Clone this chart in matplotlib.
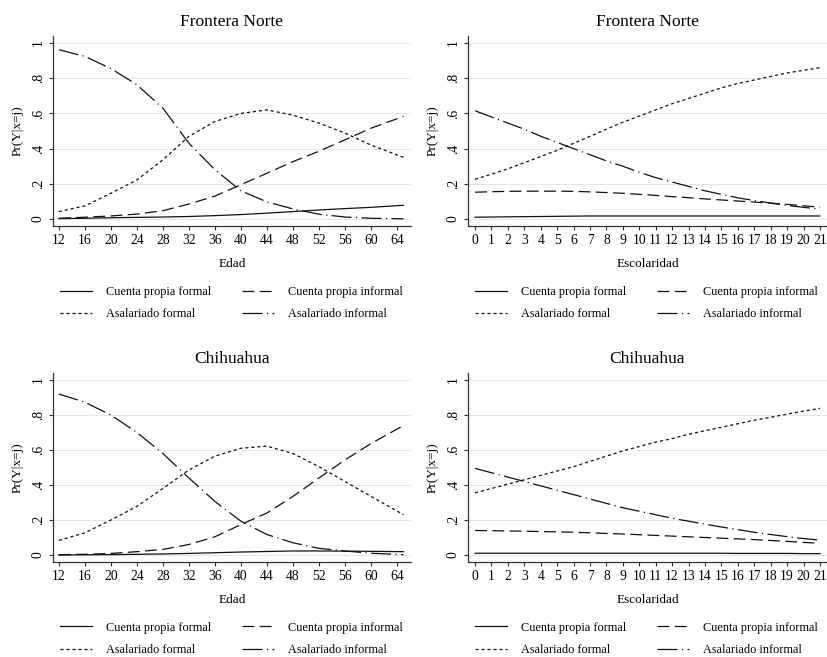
import numpy as np
import matplotlib
matplotlib.use("Agg")
import matplotlib.pyplot as plt

plt.rcParams['font.family'] = ['Liberation Serif', 'DejaVu Serif']

# ---- data ----
edad = [12, 16, 20, 24, 28, 32, 36, 40, 44, 48, 52, 56, 60, 65]
esc = list(range(22))

# Frontera Norte, by age
fn_edad_cpf = [0.002, 0.004, 0.007, 0.009, 0.011, 0.014, 0.019, 0.025, 0.033, 0.042, 0.051, 0.059, 0.066, 0.078]
fn_edad_cpi = [0.004, 0.010, 0.017, 0.028, 0.047, 0.085, 0.130, 0.195, 0.260, 0.326, 0.385, 0.450, 0.516, 0.583]
fn_edad_asf = [0.042, 0.074, 0.146, 0.222, 0.336, 0.470, 0.554, 0.600, 0.620, 0.590, 0.545, 0.488, 0.420, 0.350]
fn_edad_asi = [0.962, 0.924, 0.855, 0.763, 0.630, 0.430, 0.280, 0.160, 0.097, 0.057, 0.027, 0.011, 0.004, 0.001]

# Frontera Norte, by schooling
fn_esc_cpf = [0.010, 0.011, 0.012, 0.013, 0.014, 0.015, 0.016, 0.017, 0.017, 0.017, 0.017, 0.017,
              0.017, 0.017, 0.017, 0.017, 0.017, 0.017, 0.017, 0.017, 0.017, 0.017]
fn_esc_cpi = [0.152, 0.155, 0.157, 0.158, 0.158, 0.158, 0.157, 0.154, 0.150, 0.146, 0.140, 0.134,
              0.127, 0.121, 0.114, 0.108, 0.102, 0.096, 0.090, 0.083, 0.075, 0.067]
fn_esc_asf = [0.225, 0.255, 0.285, 0.320, 0.355, 0.390, 0.430, 0.470, 0.510, 0.550, 0.585, 0.620,
              0.655, 0.685, 0.715, 0.745, 0.770, 0.790, 0.810, 0.830, 0.845, 0.860]
fn_esc_asi = [0.615, 0.580, 0.545, 0.510, 0.470, 0.435, 0.400, 0.365, 0.330, 0.300, 0.265, 0.235,
              0.210, 0.185, 0.160, 0.140, 0.120, 0.105, 0.090, 0.077, 0.066, 0.057]

# Chihuahua, by age
ch_edad_cpf = [0.000, 0.001, 0.002, 0.004, 0.006, 0.009, 0.013, 0.017, 0.020, 0.023, 0.023, 0.022, 0.021, 0.019]
ch_edad_cpi = [0.002, 0.004, 0.009, 0.019, 0.032, 0.060, 0.104, 0.174, 0.240, 0.335, 0.440, 0.543, 0.637, 0.740]
ch_edad_asf = [0.083, 0.127, 0.200, 0.278, 0.380, 0.486, 0.565, 0.610, 0.622, 0.580, 0.505, 0.420, 0.335, 0.230]
ch_edad_asi = [0.920, 0.873, 0.800, 0.700, 0.580, 0.440, 0.306, 0.193, 0.117, 0.070, 0.038, 0.023, 0.010, 0.002]

# Chihuahua, by schooling
ch_esc_cpf = [0.010, 0.010, 0.010, 0.010, 0.010, 0.010, 0.010, 0.010, 0.010, 0.010, 0.010, 0.010,
              0.010, 0.010, 0.010, 0.010, 0.009, 0.009, 0.009, 0.009, 0.008, 0.008]
ch_esc_cpi = [0.140, 0.139, 0.137, 0.136, 0.134, 0.132, 0.130, 0.127, 0.123, 0.120, 0.116, 0.112,
              0.108, 0.104, 0.100, 0.096, 0.092, 0.088, 0.083, 0.078, 0.072, 0.067]
ch_esc_asf = [0.355, 0.380, 0.405, 0.430, 0.455, 0.480, 0.505, 0.535, 0.565, 0.595, 0.620, 0.645,
              0.665, 0.690, 0.710, 0.730, 0.750, 0.770, 0.787, 0.805, 0.822, 0.838]
ch_esc_asi = [0.495, 0.470, 0.445, 0.420, 0.395, 0.370, 0.345, 0.320, 0.295, 0.270, 0.250, 0.230,
              0.210, 0.193, 0.176, 0.160, 0.145, 0.130, 0.117, 0.105, 0.094, 0.085]

labels = ["Cuenta propia formal", "Cuenta propia informal", "Asalariado formal", "Asalariado informal"]
edad_ticks = list(range(12, 65, 4))
y_ticks = [0, 0.2, 0.4, 0.6, 0.8, 1]
y_ticklabels = ["0", ".2", ".4", ".6", ".8", "1"]

styles = [dict(ls='-'),
          dict(dashes=(9.5, 4.3)),
          dict(dashes=(2.5, 2.3)),
          dict(dashes=(16, 3.5, 1, 3.5))]

fig = plt.figure(figsize=(8.28, 6.57), dpi=100)
W, H = 828.0, 657.0
# axes boxes in pixels: left, top, right, bottom
boxes = [(53, 36, 411, 226), (468, 36, 827, 226),
         (53, 373, 411, 562), (468, 373, 827, 562)]

panels = [
    ("Frontera Norte", "Edad", edad, [fn_edad_cpf, fn_edad_cpi, fn_edad_asf, fn_edad_asi]),
    ("Frontera Norte", "Escolaridad", esc, [fn_esc_cpf, fn_esc_cpi, fn_esc_asf, fn_esc_asi]),
    ("Chihuahua", "Edad", edad, [ch_edad_cpf, ch_edad_cpi, ch_edad_asf, ch_edad_asi]),
    ("Chihuahua", "Escolaridad", esc, [ch_esc_cpf, ch_esc_cpi, ch_esc_asf, ch_esc_asi]),
]

axis_col = '#333333'
for (l, t, r, b), (title, xlab, xs, series) in zip(boxes, panels):
    ax = fig.add_axes([l / W, 1 - b / H, (r - l) / W, (b - t) / H])
    handles = []
    for ys, lab, st in zip(series, labels, styles):
        h, = ax.plot(xs, ys, color='#111111', lw=0.9, label=lab, **st)
        handles.append(h)
    ax.set_ylim(-0.04, 1.04)
    if xlab == "Edad":
        ax.set_xlim(11.1, 66.15)
        ax.set_xticks(edad_ticks)
    else:
        ax.set_xlim(-0.43, 21.43)
        ax.set_xticks(esc)
    ax.set_yticks(y_ticks)
    ax.set_yticklabels(y_ticklabels, rotation=90, va='center')
    ax.grid(axis='y', color='#e6e6e6', lw=0.8)
    ax.set_axisbelow(True)
    for s in ['top', 'right']:
        ax.spines[s].set_visible(False)
    for s in ['left', 'bottom']:
        ax.spines[s].set_color(axis_col)
        ax.spines[s].set_linewidth(0.9)
    ax.tick_params(direction='out', length=3, width=0.8, color=axis_col, labelsize=9.8, pad=3)
    ax.set_title(title, fontsize=12.5, pad=7)
    ax.set_xlabel(xlab, fontsize=9.5, labelpad=8)
    ax.set_ylabel("Pr(Y|x=j)", fontsize=9.5, labelpad=6)
    ax.legend(handles=[handles[0], handles[2], handles[1], handles[3]],
              labels=[labels[0], labels[2], labels[1], labels[3]],
              ncol=2, loc='upper left', bbox_to_anchor=(0.02, -0.315),
              frameon=False, fontsize=8.8, handlelength=2.6, handletextpad=1.15,
              columnspacing=2.55, labelspacing=0.85, borderpad=0, borderaxespad=0)

fig.savefig("out.png", dpi=100)
